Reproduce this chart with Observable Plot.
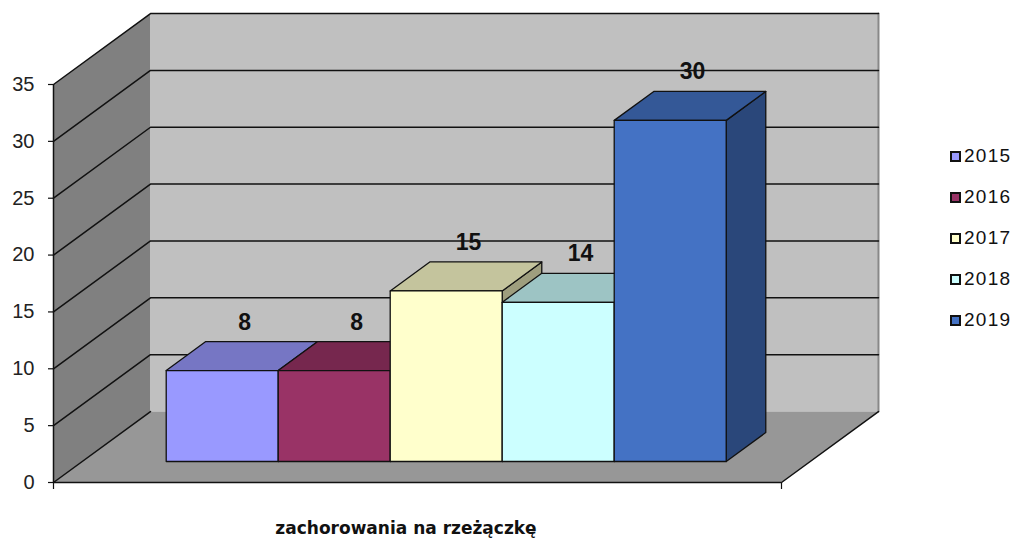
<!DOCTYPE html>
<html><head><meta charset="utf-8">
<script src="https://cdn.jsdelivr.net/npm/d3@7"></script>
<script src="https://cdn.jsdelivr.net/npm/@observablehq/plot@0.6"></script>
<style>
body{margin:0;background:#fff;}
#wrap{position:relative;width:1016px;height:539px;overflow:hidden;}
#legend{position:absolute;left:950px;top:0;}
.item{position:absolute;left:0;height:24px;display:flex;align-items:center;white-space:nowrap;
 font-family:Arial,'Liberation Sans',sans-serif;font-size:19px;letter-spacing:1.3px;color:#111;}
.sw{width:11px;height:11px;box-sizing:border-box;border:2px solid #111;margin-right:3px;}
#title{position:absolute;left:0;width:812px;top:518px;line-height:20px;text-align:center;
 font-family:'DejaVu Sans',sans-serif;font-weight:bold;font-size:17px;color:#111;}
</style></head><body><div id="wrap"></div>
<script>
// ---- data ----
const years = ["2015", "2016", "2017", "2018", "2019"];
const values = [8, 8, 15, 14, 30];
const yTicks = [0, 5, 10, 15, 20, 25, 30, 35];
const title = "zachorowania na rzeżączkę";

// ---- styles ----
const frontColors = ["#9999FF", "#993366", "#FFFFCC", "#CCFFFF", "#4472C4"];
const topColors   = ["#7676C4", "#76274E", "#C4C49D", "#9DC4C4", "#345897"];
const sideColors  = ["#5F5F9E", "#5F203F", "#9E9E7E", "#7E9E9E", "#2A477A"];
const wallBack = "#C0C0C0", wallLeft = "#808080", floorCol = "#979797";

// ---- 3D geometry (oblique projection in data units) ----
const W = 6.5;          // floor width in category units
const GAP = 0.75;       // gap before first bar
const DX = 0.866, DY = 6.24; // full depth offset (x units, value units)
const F1 = 0.296, F2 = 0.704; // bar front/back depth fractions
const YMAX = 35;
const P = (x, v, d) => ({x: x + d * DX, y: v + d * DY});

function poly(id, fill, pts) { return pts.map((p, k) => ({id, fill, k, ...p})); }

const walls = [
  ...poly("left", wallLeft, [P(0,0,0), P(0,YMAX,0), P(0,YMAX,1), P(0,0,1)]),
  ...poly("back", wallBack, [P(0,0,1), P(0,YMAX,1), P(W,YMAX,1), P(W,0,1)]),
  ...poly("floor", floorCol, [P(0,0,0), P(W,0,0), P(W,0,1), P(0,0,1)])
];

const grid = [];
yTicks.forEach(t => {
  const pts = t === 0 ? [P(0,0,0), P(0,0,1)] : [P(0,t,0), P(0,t,1), P(W,t,1)];
  pts.forEach((p, k) => grid.push({id: "g" + t, k, ...p}));
});
[P(W,0,0), P(W,0,1)].forEach((p, k) => grid.push({id: "floorEdge", k, ...p}));

const bars = [];
values.forEach((v, i) => {
  const x0 = GAP + i, x1 = GAP + i + 1;
  bars.push(...poly("s" + i, sideColors[i], [P(x1,0,F1), P(x1,0,F2), P(x1,v,F2), P(x1,v,F1)]));
  bars.push(...poly("t" + i, topColors[i], [P(x0,v,F1), P(x1,v,F1), P(x1,v,F2), P(x0,v,F2)]));
  bars.push(...poly("f" + i, frontColors[i], [P(x0,0,F1), P(x1,0,F1), P(x1,v,F1), P(x0,v,F1)]));
});

const labels = values.map((v, i) => ({x: GAP + i + 0.5 + F1 * DX + 0.2, y: v + 6.1, text: String(v)}));

const plot = Plot.plot({
  width: 1016, height: 510,
  marginLeft: 53, marginRight: 235, marginTop: 84, marginBottom: 28,
  x: {domain: [0, W], axis: null},
  y: {domain: [0, YMAX], axis: null},
  color: {type: "identity"},
  style: {fontFamily: "Arial, 'Liberation Sans', sans-serif", background: "white", overflow: "visible"},
  marks: [
    Plot.line(walls, {x: "x", y: "y", z: "id", fill: "fill", stroke: "none", curve: "linear-closed"}),
    Plot.line([P(W,0,1), P(W,YMAX,1)], {x: "x", y: "y", stroke: "#888", strokeWidth: 2}),
    Plot.line(grid, {x: "x", y: "y", z: "id", stroke: "#111", strokeWidth: 1.5}),
    Plot.ruleX([0], {y1: 0, y2: YMAX, stroke: "#111", strokeWidth: 1.5}),
    Plot.ruleY([0], {x1: 0, x2: W, stroke: "#111", strokeWidth: 1.5}),
    Plot.axisY({ticks: yTicks, label: null, tickSize: 5, tickPadding: 14, fontSize: 20, fill: "#222", stroke: "#111", strokeWidth: 1.2}),
    Plot.axisX({ticks: [0, W], label: null, tickFormat: () => "", tickSize: 7, stroke: "#111", strokeWidth: 1.2}),
    Plot.line(bars, {x: "x", y: "y", z: "id", fill: "fill", stroke: "#111", strokeWidth: 1.3, strokeLinejoin: "round", curve: "linear-closed"}),
    Plot.text(labels, {x: "x", y: "y", text: "text", fontSize: 23, fontWeight: "bold", fill: "#111"})
  ]
});

const wrap = document.getElementById("wrap");
wrap.appendChild(plot);

const legend = document.createElement("div");
legend.id = "legend";
years.forEach((yr, i) => {
  const it = document.createElement("div");
  it.className = "item";
  it.style.top = (144 + i * 41) + "px";
  const sw = document.createElement("span");
  sw.className = "sw";
  sw.style.background = frontColors[i];
  it.appendChild(sw);
  it.appendChild(document.createTextNode(yr));
  legend.appendChild(it);
});
wrap.appendChild(legend);

const t = document.createElement("div");
t.id = "title";
t.textContent = title;
wrap.appendChild(t);
</script>
</body></html>
